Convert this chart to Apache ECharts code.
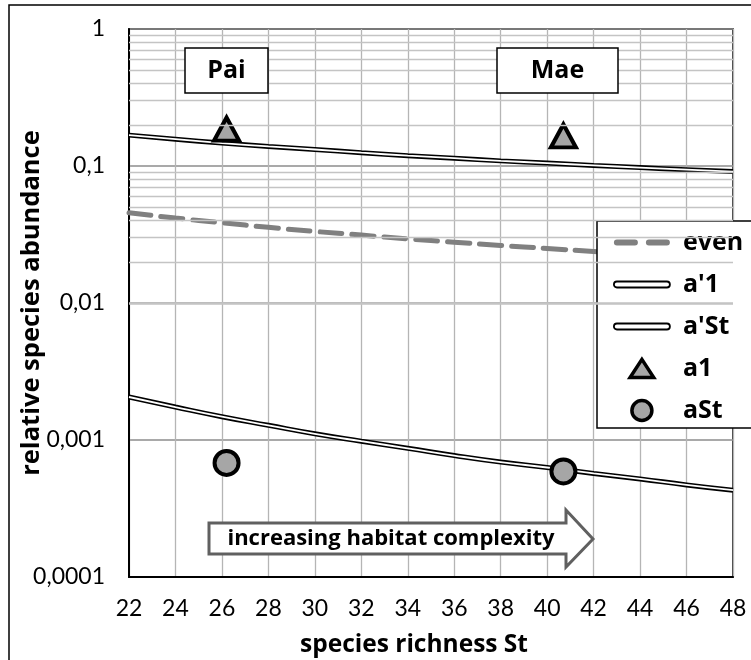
<!DOCTYPE html>
<html>
<head>
<meta charset="utf-8">
<script src="https://cdn.jsdelivr.net/npm/echarts@6/dist/echarts.min.js"></script>
<style>html,body{margin:0;padding:0;background:#fff}#c{width:751px;height:660px}</style>
</head>
<body>
<div id="c"></div>
<script>
// ---- data ----
const richness = [22, 24, 26, 28, 30, 32, 34, 36, 38, 40, 42, 44, 46, 48];
const evenVals = [0.0455, 0.0417, 0.0385, 0.0357, 0.0333, 0.0313, 0.0294, 0.0278, 0.0263, 0.0250, 0.0238, 0.0227, 0.0217, 0.0208];
const a1Model  = [0.168, 0.157, 0.147, 0.139, 0.132, 0.125, 0.119, 0.114, 0.109, 0.105, 0.101, 0.0974, 0.0940, 0.091];
const aStModel = [0.00206, 0.00174, 0.00148, 0.00128, 0.00111, 0.00098, 0.00087, 0.00077, 0.00069, 0.00063, 0.00057, 0.00052, 0.00047, 0.00043];
const sites = ['Pai', 'Mae'];
const siteRichness = [26.2, 40.7];
const a1Obs  = [0.186, 0.166];
const aStObs = [0.00068, 0.00059];
const yTickLabels = {'-4': '0,0001', '-3': '0,001', '-2': '0,01', '-1': '0,1', '0': '1'};
const minorGrid = [0.0002,0.0003,0.0004,0.0005,0.0006,0.0007,0.0008,0.0009,
                   0.002,0.003,0.004,0.005,0.006,0.007,0.008,0.009,
                   0.02,0.03,0.04,0.05,0.06,0.07,0.08,0.09,
                   0.2,0.3,0.4,0.5,0.6,0.7,0.8,0.9];

const pair = (xs, ys) => xs.map((x, i) => [x, ys[i]]);
const FONT = 'Lato';
const BFONT = '"Open Sans"';
const GRAY = '#a6a6a6';
const LINE_ICON = 'path://M3,0 L53,0 A3,3 0 0 1 53,6 L3,6 A3,3 0 0 1 3,0 Z';
const TRI_ICON = 'path://M0,0 Z M56,22 Z M28,1 L41,21 L15,21 Z';

const chart = echarts.init(document.getElementById('c'), null, {renderer: 'canvas'});
chart.setOption({
  animation: false,
  backgroundColor: '#fff',
  textStyle: {fontFamily: FONT},
  grid: {left: 129, right: 18, top: 29, bottom: 83, show: true, borderColor: '#000', borderWidth: 1.5,
         backgroundColor: 'transparent', containLabel: false, outerBoundsMode: 'none'},
  xAxis: {
    type: 'value', min: 22, max: 48, interval: 2,
    axisLine: {lineStyle: {color: '#000', width: 2}},
    axisTick: {show: false},
    axisLabel: {color: '#000', fontSize: 23, fontFamily: FONT, margin: 20},
    splitLine: {show: true, lineStyle: {color: '#b5b5b5', width: 1.3}},
    name: 'species richness St', nameLocation: 'middle', nameGap: 56, nameMoveOverlap: false,
    nameTextStyle: {color: '#000', fontSize: 24.5, fontWeight: 'bold', fontFamily: BFONT, padding: [0, 34, 0, 0]}
  },
  yAxis: {
    type: 'log', logBase: 10, min: 0.0001, max: 1,
    axisLine: {lineStyle: {color: '#000', width: 2}},
    axisTick: {show: false},
    axisLabel: {color: '#000', fontSize: 23, fontFamily: FONT, margin: 24,
      formatter: v => yTickLabels[String(Math.round(Math.log10(v)))] || ''},
    splitLine: {show: true, lineStyle: {color: '#8c8c8c', width: 1.5}},
    name: 'relative species abundance', nameLocation: 'middle', nameGap: 84, nameRotate: 90, nameMoveOverlap: false,
    nameTextStyle: {color: '#000', fontSize: 25.5, fontWeight: 'bold', fontFamily: BFONT}
  },
  legend: {
    orient: 'vertical', left: 597, top: 221,
    backgroundColor: '#fff', borderColor: '#000', borderWidth: 1.5, borderRadius: 0,
    padding: [9, 60, 5, 16],
    itemWidth: 56, itemHeight: 20, itemGap: 17,
    textStyle: {color: '#000', fontSize: 25, fontWeight: 'bold', fontFamily: BFONT, lineHeight: 20, padding: [0, 0, 0, 8]},
    data: [
      {name: 'even', icon: 'path://M3,0 L21,0 A3,3 0 0 1 21,6 L3,6 A3,3 0 0 1 3,0 Z M35,0 L53,0 A3,3 0 0 1 53,6 L35,6 A3,3 0 0 1 35,0 Z', itemStyle: {color: '#808080', borderWidth: 0}},
      {name: "a'1", icon: LINE_ICON, itemStyle: {color: '#fff', borderColor: '#000', borderWidth: 1.8}},
      {name: "a'St", icon: LINE_ICON, itemStyle: {color: '#fff', borderColor: '#000', borderWidth: 1.8}},
      {name: 'a1', icon: TRI_ICON, itemStyle: {color: GRAY, borderColor: '#000', borderWidth: 3.5}},
      {name: 'aSt', icon: 'circle', itemStyle: {color: GRAY, borderColor: '#000', borderWidth: 3.5}}
    ]
  },
  series: [
    {
      name: 'minorGrid', type: 'line', data: [], z: 1, silent: true,
      markLine: {
        silent: true, symbol: 'none', label: {show: false}, animation: false,
        lineStyle: {color: '#c4c4c4', width: 1.3, type: 'solid'},
        emphasis: {disabled: true},
        data: minorGrid.map(v => ({yAxis: v}))
      }
    },
    {
      name: 'even', type: 'line', data: pair(richness, evenVals), smooth: true, symbol: 'none', z: 3,
      lineStyle: {color: '#808080', width: 5, type: [22, 10], cap: 'round'}, itemStyle: {color: '#808080'}
    },
    {
      name: "a'1", type: 'line', data: pair(richness, a1Model), smooth: true, symbol: 'none', z: 3,
      lineStyle: {color: '#000', width: 5}, itemStyle: {color: '#000'}
    },
    {
      name: "a'1 inner", type: 'line', data: pair(richness, a1Model), smooth: true, symbol: 'none', z: 3,
      lineStyle: {color: '#fff', width: 1.8}
    },
    {
      name: "a'St", type: 'line', data: pair(richness, aStModel), smooth: true, symbol: 'none', z: 3,
      lineStyle: {color: '#000', width: 5}, itemStyle: {color: '#000'}
    },
    {
      name: "a'St inner", type: 'line', data: pair(richness, aStModel), smooth: true, symbol: 'none', z: 3,
      lineStyle: {color: '#fff', width: 1.8}
    },
    {
      name: 'a1', type: 'scatter', data: pair(siteRichness, a1Obs), symbol: 'triangle', symbolSize: [25, 23], z: 4,
      itemStyle: {color: GRAY, borderColor: '#000', borderWidth: 4, opacity: 1}
    },
    {
      name: 'aSt', type: 'scatter', data: pair(siteRichness, aStObs), symbol: 'circle', symbolSize: 24, z: 4,
      itemStyle: {color: GRAY, borderColor: '#000', borderWidth: 4, opacity: 1}
    }
  ],
  graphic: [
    {type: 'rect', z: 0, silent: true, shape: {x: 9, y: 5, width: 800, height: 700}, style: {fill: 'none', stroke: '#000', lineWidth: 1.5}},
    {type: 'rect', z: 100, shape: {x: 185, y: 48, width: 83, height: 45}, style: {fill: '#fff', stroke: '#000', lineWidth: 1.5}},
    {type: 'text', z: 101, x: 226.5, y: 71, style: {text: sites[0], fill: '#000', font: 'bold 25px "Open Sans"', align: 'center', verticalAlign: 'middle'}},
    {type: 'rect', z: 100, shape: {x: 497, y: 48, width: 121, height: 45}, style: {fill: '#fff', stroke: '#000', lineWidth: 1.5}},
    {type: 'text', z: 101, x: 557.5, y: 71, style: {text: sites[1], fill: '#000', font: 'bold 25px "Open Sans"', align: 'center', verticalAlign: 'middle'}},
    {type: 'polygon', z: 100, shape: {points: [[209, 523], [566, 523], [566, 510], [593, 539], [566, 567], [566, 554], [209, 554]]},
      style: {fill: '#fff', stroke: '#606060', lineWidth: 3}},
    {type: 'text', z: 101, x: 391, y: 539, style: {text: 'increasing habitat complexity', fill: '#000', font: 'bold 22px "Open Sans"', align: 'center', verticalAlign: 'middle'}}
  ]
});
</script>
</body>
</html>
